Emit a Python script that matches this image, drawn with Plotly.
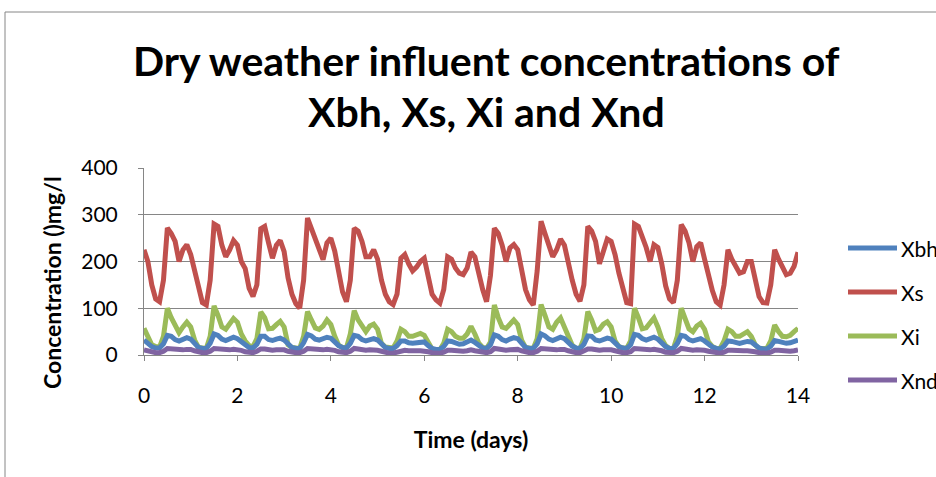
import plotly.graph_objects as go

# Influent sampled every 2 hours over 14 days (12 samples per day + final point)
STEP_HOURS = 2
N_DAYS = 14

# Particulate inert COD, Xi (mg/l)
xi = [
    57, 40, 22, 18, 17, 40, 100, 80, 62, 48, 60, 70,
    60, 32, 16, 14, 14, 40, 105, 85, 60, 55, 65, 78,
    70, 45, 30, 20, 18, 35, 92, 80, 56, 57, 65, 72,
    60, 22, 16, 14, 14, 40, 93, 75, 58, 55, 62, 75,
    65, 40, 21, 16, 15, 45, 95, 75, 60, 50, 62, 66,
    55, 25, 17, 15, 15, 30, 55, 50, 40, 40, 42, 46,
    42, 25, 13, 11, 11, 25, 55, 50, 40, 36, 36, 45,
    61, 45, 25, 16, 14, 28, 107, 80, 60, 57, 68, 75,
    65, 32, 16, 14, 14, 35, 108, 85, 60, 55, 70, 79,
    60, 38, 21, 14, 14, 35, 93, 75, 52, 55, 66, 71,
    60, 30, 18, 15, 14, 30, 100, 80, 56, 58, 70, 79,
    60, 35, 20, 14, 14, 40, 100, 75, 56, 50, 62, 68,
    55, 28, 18, 14, 14, 30, 55, 50, 40, 40, 45, 50,
    40, 22, 14, 14, 14, 30, 64, 50, 40, 39, 42, 50,
    57,
]

# Slowly biodegradable substrate, Xs (mg/l)
xs = [
    225, 200, 150, 120, 114, 160, 272, 260, 243, 200, 225, 236,
    215, 180, 140, 112, 107, 160, 280, 275, 235, 210, 225, 245,
    235, 200, 185, 143, 125, 150, 270, 275, 240, 207, 235, 245,
    221, 165, 130, 110, 100, 160, 293, 270, 245, 220, 204, 240,
    250, 222, 180, 135, 114, 160, 271, 265, 243, 210, 210, 225,
    205, 160, 130, 114, 108, 130, 207, 215, 195, 180, 188, 200,
    207, 165, 130, 118, 111, 140, 210, 205, 186, 175, 172, 186,
    220, 210, 170, 140, 114, 170, 271, 260, 235, 200, 229, 236,
    225, 185, 140, 118, 107, 180, 286, 260, 236, 210, 225, 248,
    235, 195, 160, 130, 115, 150, 275, 265, 243, 195, 225, 248,
    243, 215, 175, 140, 112, 110, 280, 275, 255, 230, 200, 236,
    230, 195, 148, 120, 112, 160, 279, 265, 240, 200, 232, 240,
    205, 165, 138, 114, 107, 150, 225, 205, 188, 175, 178, 200,
    200, 160, 125, 112, 111, 150, 225, 205, 188, 172, 175, 190,
    220,
]

# Active heterotrophic biomass, Xbh (mg/l)
xbh = [
    32, 25, 18, 15, 15, 24, 42, 40, 33, 30, 34, 37,
    34, 24, 16, 14, 14, 25, 45, 42, 34, 31, 35, 38,
    35, 28, 20, 16, 15, 23, 40, 40, 33, 31, 34, 36,
    32, 22, 16, 14, 14, 26, 44, 41, 34, 32, 34, 38,
    36, 28, 20, 16, 15, 25, 42, 40, 33, 30, 33, 35,
    32, 22, 16, 14, 14, 20, 30, 30, 26, 25, 26, 28,
    28, 20, 14, 12, 12, 18, 30, 29, 25, 23, 24, 27,
    32, 27, 20, 15, 14, 22, 43, 40, 33, 30, 34, 37,
    35, 25, 16, 14, 14, 24, 45, 41, 34, 31, 35, 38,
    35, 27, 19, 15, 14, 23, 41, 40, 32, 30, 34, 36,
    34, 26, 18, 15, 14, 22, 44, 42, 35, 32, 35, 38,
    34, 26, 18, 14, 14, 25, 42, 40, 33, 30, 33, 35,
    30, 22, 17, 14, 13, 19, 30, 29, 26, 25, 27, 29,
    28, 20, 15, 13, 13, 19, 31, 29, 26, 25, 26, 28,
    32,
]

# Particulate biodegradable organic nitrogen, Xnd (mg/l)
xnd = [
    11, 9, 6, 5, 5, 8, 14, 13, 11, 10, 11, 12,
    12, 9, 6, 5, 5, 8, 14, 13, 11, 10, 11, 12,
    12, 10, 7, 5, 5, 8, 13, 13, 11, 10, 11, 12,
    11, 8, 6, 5, 5, 8, 14, 13, 11, 10, 11, 12,
    12, 10, 7, 5, 5, 8, 14, 13, 11, 10, 11, 11,
    10, 8, 5, 4, 4, 6, 10, 10, 9, 8, 9, 9,
    9, 7, 5, 4, 4, 6, 10, 10, 9, 8, 8, 9,
    11, 9, 7, 5, 5, 7, 14, 13, 11, 10, 11, 12,
    12, 9, 6, 5, 5, 8, 14, 13, 11, 10, 11, 12,
    12, 9, 6, 5, 5, 8, 13, 13, 11, 10, 11, 12,
    11, 9, 6, 5, 5, 7, 14, 13, 11, 10, 11, 12,
    11, 9, 6, 5, 5, 8, 14, 13, 11, 10, 11, 11,
    10, 8, 6, 4, 4, 6, 10, 10, 9, 8, 9, 9,
    9, 7, 5, 4, 4, 6, 10, 10, 9, 8, 8, 9,
    11,
]

series_names = ["Xbh", "Xs", "Xi", "Xnd"]
series_values = [xbh, xs, xi, xnd]
series_colors = ["#4F81BD", "#C0504D", "#9BBB59", "#8064A2"]

x_ticks = [0, 2, 4, 6, 8, 10, 12, 14]
y_ticks = [0, 100, 200, 300, 400]

time_days = [i * STEP_HOURS / 24 for i in range(N_DAYS * 24 // STEP_HOURS + 1)]

FONT = "Lato"
GRAY = "#868686"

# plot-area geometry in pixels, used to place text around it
L, T, W, H = 144, 168, 654, 187


def px(x):
    return (x - L) / W


def py(y):
    return (T + H - y) / H


fig = go.Figure()
# draw order: Xi and Xs underneath, the small series on top
for idx in [2, 1, 0, 3]:
    fig.add_trace(go.Scatter(
        x=time_days, y=series_values[idx], mode="lines", name=series_names[idx],
        line=dict(color=series_colors[idx], width=5), showlegend=False,
    ))

annotations = [
    dict(text="<b>Dry weather influent concentrations of</b>", xref="paper", yref="paper",
         x=px(486), y=py(61), xanchor="center", yanchor="middle", showarrow=False,
         font=dict(family=FONT, size=41, color="black")),
    dict(text="<b>Xbh, Xs, Xi and Xnd</b>", xref="paper", yref="paper",
         x=px(486), y=py(112), xanchor="center", yanchor="middle", showarrow=False,
         font=dict(family=FONT, size=41, color="black")),
    dict(text="<b>Concentration ()mg/l</b>", xref="paper", yref="paper",
         x=px(52), y=py(283), xanchor="center", yanchor="middle", showarrow=False,
         textangle=-90, font=dict(family=FONT, size=23, color="black")),
]

# legend built from the series list
shapes = []
legend_y_px = [248, 292, 336, 380]
for name, color, ypx in zip(series_names, series_colors, legend_y_px):
    shapes.append(dict(type="line", xref="paper", yref="paper",
                       x0=px(848), x1=px(897), y0=py(ypx), y1=py(ypx),
                       line=dict(color=color, width=5)))
    annotations.append(dict(text=name, xref="paper", yref="paper",
                            x=px(899), y=py(ypx), xanchor="left", yanchor="middle",
                            showarrow=False, font=dict(family=FONT, size=21, color="black")))

# chart-area frame
shapes.append(dict(type="rect", xref="paper", yref="paper",
                   x0=px(5), x1=px(940), y0=py(480), y1=py(12),
                   line=dict(color=GRAY, width=1), layer="below"))

fig.update_layout(
    width=936, height=477,
    margin=dict(l=L, r=936 - L - W, t=T, b=477 - T - H),
    paper_bgcolor="white", plot_bgcolor="white",
    font=dict(family=FONT, color="black"),
    annotations=annotations, shapes=shapes,
    xaxis=dict(
        range=[0, 14], tickvals=x_ticks, ticktext=[str(v) for v in x_ticks],
        showgrid=False, zeroline=False, showline=True, linecolor=GRAY, linewidth=1,
        ticks="outside", ticklen=5, tickcolor=GRAY, ticklabelstandoff=17,
        tickfont=dict(family=FONT, size=21),
        title=dict(text="<b>Time (days)</b>", font=dict(family=FONT, size=23), standoff=25),
    ),
    yaxis=dict(
        range=[0, 400], tickvals=y_ticks, ticktext=[str(v) for v in y_ticks],
        showgrid=True, gridcolor=GRAY, gridwidth=1, zeroline=False,
        showline=True, linecolor=GRAY, linewidth=1,
        ticks="outside", ticklen=5, tickcolor=GRAY, ticklabelstandoff=16,
        tickfont=dict(family=FONT, size=21),
    ),
)

fig.write_html("out.html")
